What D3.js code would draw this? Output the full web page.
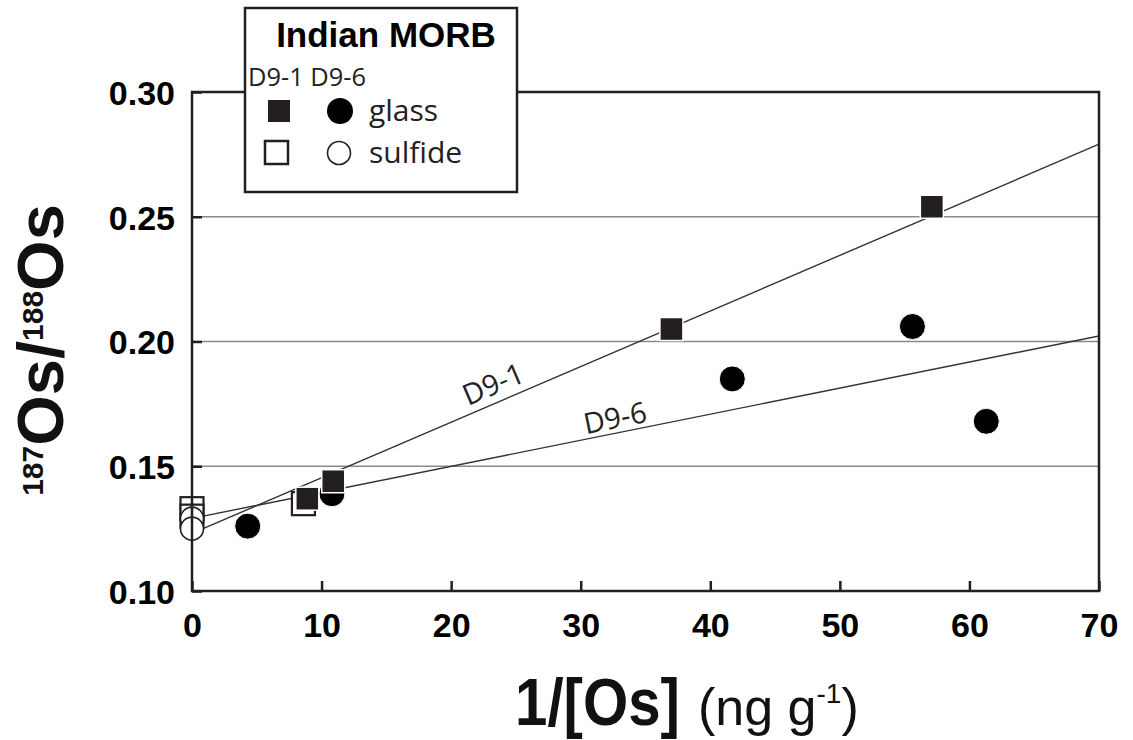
<!DOCTYPE html>
<html>
<head>
<meta charset="utf-8">
<script src="https://cdnjs.cloudflare.com/ajax/libs/d3/7.8.5/d3.min.js"></script>
<style>
  body { margin: 0; background: #fff; }
  svg { display: block; }
</style>
</head>
<body>
<div id="chart"></div>
<script>
// values
const d91Glass = [[8.9, 0.137], [10.9, 0.144], [37.0, 0.205], [57.1, 0.254]];
const d91Sulfide = [[0, 0.133], [0, 0.130], [8.6, 0.135]];
const d96Glass = [[4.3, 0.126], [10.8, 0.139], [41.7, 0.185], [55.6, 0.206], [61.3, 0.168]];
const d96Sulfide = [[0, 0.129], [0, 0.125]];

// regression lines: [x, y] at each end
const d91Line = [[0, 0.1231], [70, 0.2791]];
const d96Line = [[0, 0.1291], [70, 0.2022]];

const xTicks = [0, 10, 20, 30, 40, 50, 60, 70];
const yTicks = [0.10, 0.15, 0.20, 0.25, 0.30];
const gridVals = [0.15, 0.20, 0.25];

const w = 1133;
const h = 740;
const ink = "#231f20";

const svg = d3.select("#chart")
    .append("svg")
    .attr("width", w)
    .attr("height", h);

const x = d3.scaleLinear().domain([0, 70]).range([192, 1099]);
const y = d3.scaleLinear().domain([0.10, 0.30]).range([591, 92]);

// grid lines
svg.selectAll(".grid")
    .data(gridVals)
    .enter()
    .append("line")
    .attr("x1", x(0))
    .attr("x2", x(70))
    .attr("y1", d => y(d))
    .attr("y2", d => y(d))
    .attr("stroke", "#8a8a8a")
    .attr("stroke-width", 1.6);

// axes with inward ticks
const xAxis = d3.axisBottom(x).tickValues(xTicks).tickSize(-10).tickPadding(14)
    .tickFormat(d3.format("d"));
const yAxis = d3.axisLeft(y).tickValues(yTicks).tickSize(-10).tickPadding(17)
    .tickFormat(d3.format(".2f"));

const gx = svg.append("g")
    .attr("transform", `translate(0,${y(0.10)})`)
    .call(xAxis);
const gy = svg.append("g")
    .attr("transform", `translate(${x(0)},0)`)
    .call(yAxis);

[gx, gy].forEach(g => {
    g.select(".domain").remove();
    g.selectAll(".tick line").attr("stroke", ink).attr("stroke-width", 2.5);
    g.selectAll(".tick text")
        .attr("fill", "#000")
        .style("font-family", "'Liberation Sans', Arial, sans-serif")
        .style("font-weight", "bold")
        .style("font-size", "34px");
});
gx.selectAll(".tick text").attr("dy", "0.95em");
gy.selectAll(".tick text").attr("dy", "0.36em");

// regression lines
const line = d3.line().x(d => x(d[0])).y(d => y(d[1]));
[d91Line, d96Line].forEach(l => {
    svg.append("path")
        .attr("d", line(l))
        .attr("fill", "none")
        .attr("stroke", "#333")
        .attr("stroke-width", 1.4);
});

// line labels, placed along each line
function lineLabel(l, xv, txt, off) {
    const slope = (y(l[1][1]) - y(l[0][1])) / (x(l[1][0]) - x(l[0][0]));
    const ang = Math.atan(slope) * 180 / Math.PI;
    const yv = l[0][1] + (l[1][1] - l[0][1]) * (xv - l[0][0]) / (l[1][0] - l[0][0]);
    svg.append("text")
        .attr("transform", `translate(${x(xv)},${y(yv) - off}) rotate(${ang})`)
        .attr("fill", "#222")
        .style("font-family", "'Open Sans', 'Noto Sans', sans-serif")
        .style("font-size", "29px")
        .text(txt);
}
lineLabel(d91Line, 21.3, "D9-1", 9);
lineLabel(d96Line, 30.4, "D9-6", 5);

// symbols
const sq = 23;
svg.selectAll(".s91s")
    .data(d91Sulfide)
    .enter()
    .append("rect")
    .attr("x", d => x(d[0]) - sq / 2)
    .attr("y", d => y(d[1]) - sq / 2)
    .attr("width", sq)
    .attr("height", sq)
    .attr("fill", "#fff")
    .attr("stroke", ink)
    .attr("stroke-width", 2.2);

svg.selectAll(".s96s")
    .data(d96Sulfide)
    .enter()
    .append("circle")
    .attr("cx", d => x(d[0]))
    .attr("cy", d => y(d[1]))
    .attr("r", 11.5)
    .attr("fill", "#fff")
    .attr("stroke", ink)
    .attr("stroke-width", 1.6);

svg.selectAll(".s96g")
    .data(d96Glass)
    .enter()
    .append("circle")
    .attr("cx", d => x(d[0]))
    .attr("cy", d => y(d[1]))
    .attr("r", 13)
    .attr("fill", "#000")
    .attr("stroke", "#fff")
    .attr("stroke-width", 1);

svg.selectAll(".s91g")
    .data(d91Glass)
    .enter()
    .append("rect")
    .attr("x", d => x(d[0]) - sq / 2)
    .attr("y", d => y(d[1]) - sq / 2)
    .attr("width", sq)
    .attr("height", sq)
    .attr("fill", ink)
    .attr("stroke", "#fff")
    .attr("stroke-width", 1.5);

// frame
svg.append("rect")
    .attr("x", x(0))
    .attr("y", y(0.30))
    .attr("width", x(70) - x(0))
    .attr("height", y(0.10) - y(0.30))
    .attr("fill", "none")
    .attr("stroke", ink)
    .attr("stroke-width", 2.5);

// axis titles
svg.append("text")
    .attr("x", 515)
    .attr("y", 725)
    .attr("textLength", 165)
    .attr("lengthAdjust", "spacingAndGlyphs")
    .attr("fill", "#111")
    .style("font-family", "'Liberation Sans', Arial, sans-serif")
    .style("font-weight", "bold")
    .style("font-size", "66px")
    .text("1/[Os]");

const xt2 = svg.append("text")
    .attr("x", 698)
    .attr("y", 725)
    .attr("fill", "#111")
    .style("font-family", "'Liberation Sans', Arial, sans-serif")
    .style("font-size", "52px");
xt2.append("tspan").text("(ng g");
xt2.append("tspan").attr("dy", -22).style("font-size", "28px").text("-1");
xt2.append("tspan").attr("dy", 22).text(")");

const yt = svg.append("text")
    .attr("transform", "translate(63,350) rotate(-90)")
    .attr("text-anchor", "middle")
    .attr("fill", "#111")
    .style("font-family", "'Liberation Sans', Arial, sans-serif")
    .style("font-weight", "bold")
    .style("font-size", "65px");
yt.append("tspan").attr("dy", -20).style("font-size", "30px").text("187");
yt.append("tspan").attr("dy", 20).text("Os/");
yt.append("tspan").attr("dy", -20).style("font-size", "30px").text("188");
yt.append("tspan").attr("dy", 20).text("Os");

// legend
const lg = svg.append("g");
lg.append("rect")
    .attr("x", 245).attr("y", 8)
    .attr("width", 272).attr("height", 184)
    .attr("fill", "#fff")
    .attr("stroke", ink)
    .attr("stroke-width", 2.5);
lg.append("text")
    .attr("x", 386).attr("y", 47)
    .attr("text-anchor", "middle")
    .attr("fill", "#000")
    .style("font-family", "'Liberation Sans', Arial, sans-serif")
    .style("font-weight", "bold")
    .style("font-size", "35px")
    .text("Indian MORB");
lg.append("text")
    .attr("x", 248).attr("y", 86)
    .attr("textLength", 118)
    .attr("lengthAdjust", "spacingAndGlyphs")
    .attr("fill", "#222")
    .style("font-family", "'Open Sans', 'Noto Sans', sans-serif")
    .style("font-size", "26px")
    .text("D9-1 D9-6");
lg.append("rect")
    .attr("x", 268).attr("y", 100).attr("width", 22).attr("height", 22)
    .attr("fill", ink);
lg.append("circle")
    .attr("cx", 340).attr("cy", 111).attr("r", 13)
    .attr("fill", "#000");
lg.append("rect")
    .attr("x", 265).attr("y", 141).attr("width", 23).attr("height", 23)
    .attr("fill", "#fff").attr("stroke", ink).attr("stroke-width", 2.5);
lg.append("circle")
    .attr("cx", 339).attr("cy", 153).attr("r", 11.5)
    .attr("fill", "#fff").attr("stroke", ink).attr("stroke-width", 1.6);
[["glass", 121], ["sulfide", 163]].forEach(t => {
    lg.append("text")
        .attr("x", 369).attr("y", t[1])
        .attr("fill", "#222")
        .style("font-family", "'Open Sans', 'Noto Sans', sans-serif")
        .style("font-size", "30px")
        .text(t[0]);
});
</script>
</body>
</html>
